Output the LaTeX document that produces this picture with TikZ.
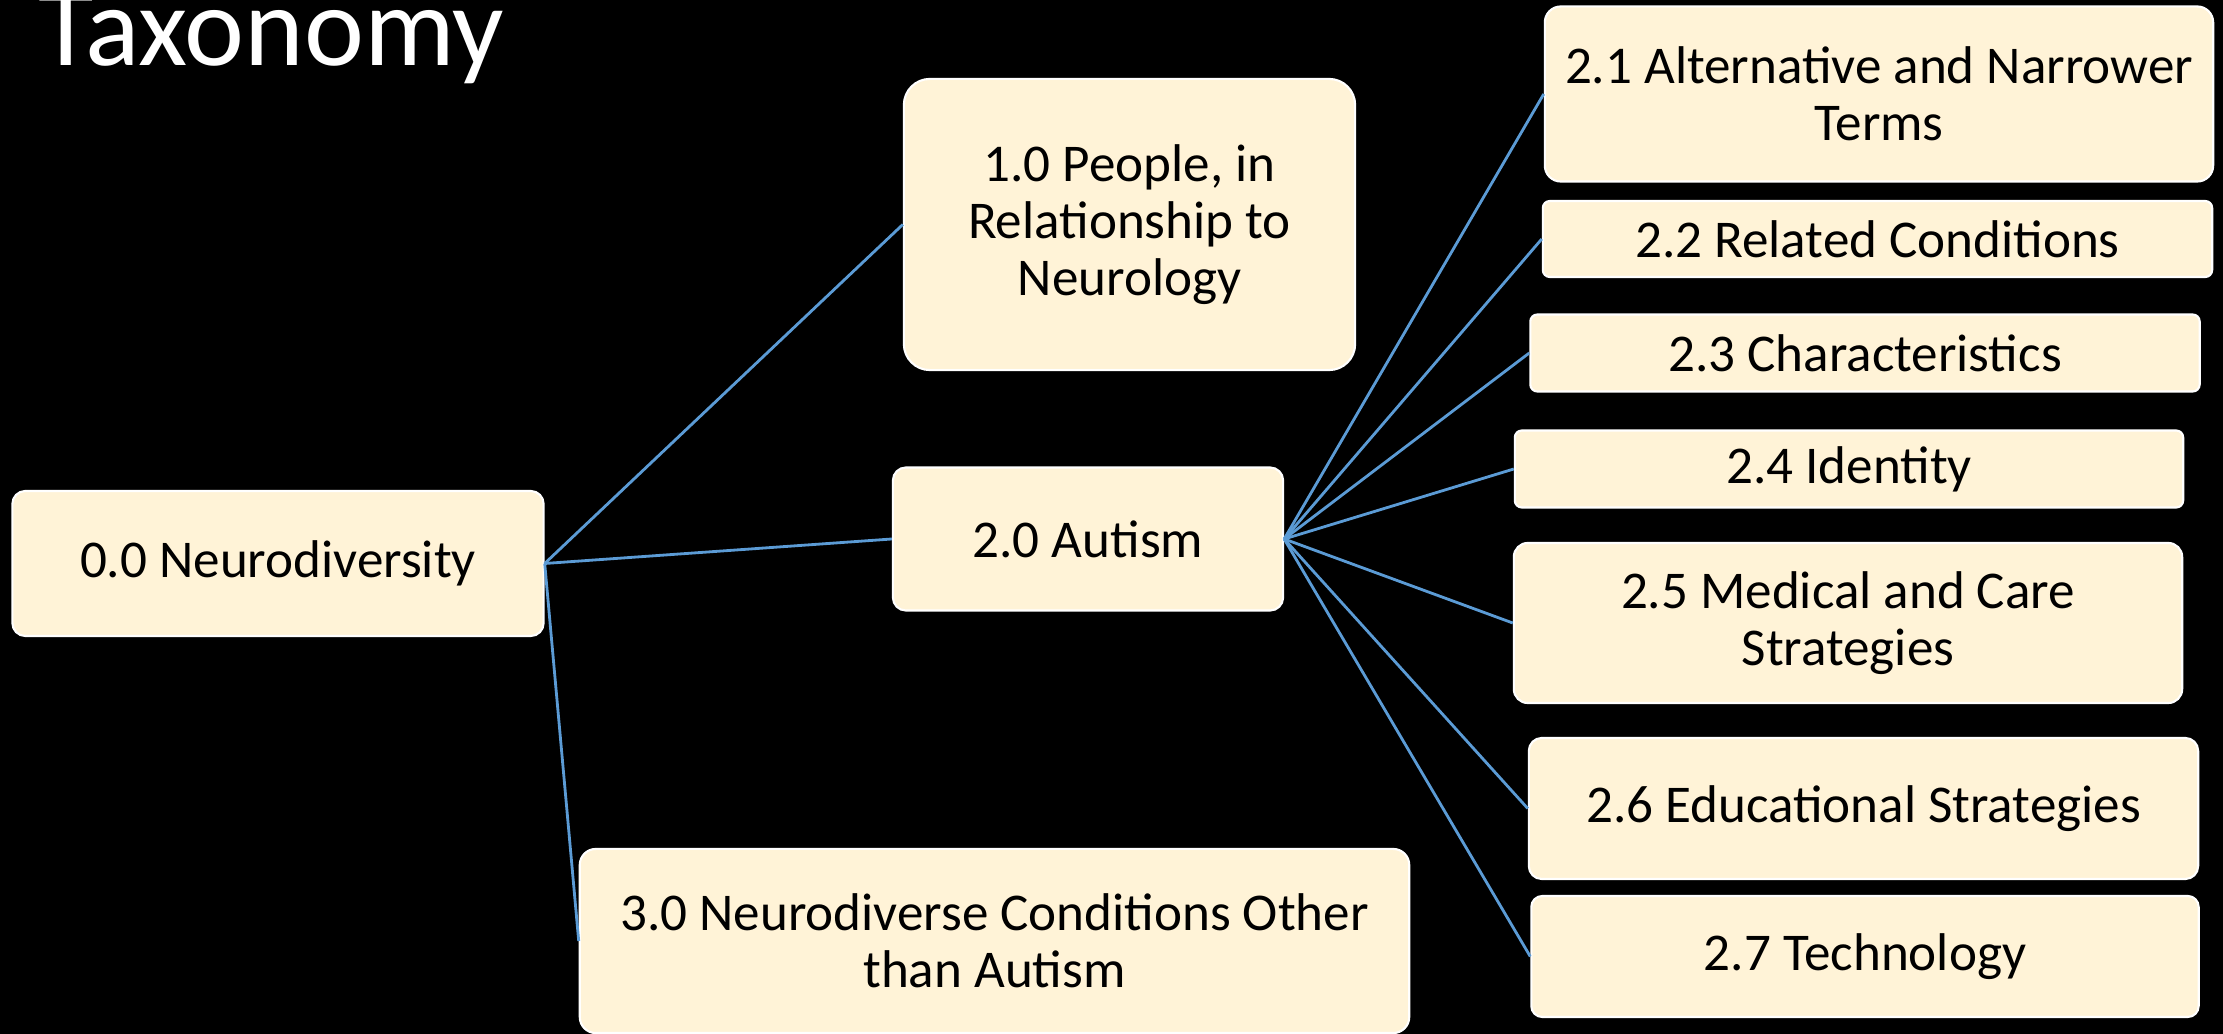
\documentclass[tikz,border=0pt]{standalone}
\usepackage{fontspec}
\setmainfont{Carlito}
\usepackage{tikz}

\definecolor{linkblue}{RGB}{91,155,213}
\definecolor{boxfill}{RGB}{255,243,215}

\begin{document}
\begin{tikzpicture}[x=0.01cm,y=-0.01cm,
        box/.style={rectangle,rounded corners=0.13cm,draw=white,line width=0.6pt,fill=boxfill,
            inner sep=0pt,align=center,font=\fontsize{15.1}{16.2}\selectfont},
        link/.style={draw=linkblue,line width=0.8pt}]

    \fill[black] (0,0) rectangle (2223,1034);
    \useasboundingbox (0,0) rectangle (2223,1034);

    \node[white, anchor=base west, inner sep=0pt, font=\fontsize{32.3}{38}\selectfont] (title) at (38,66) {Taxonomy};

    \node[box, minimum width=5.31cm, minimum height=1.45cm] (0) at (278,563.5) {0.0 Neurodiversity};
    \node[box, minimum width=4.51cm, minimum height=2.91cm, rounded corners=0.26cm] (1) at (1129.5,224.5) {1.0 People, in\\Relationship to\\Neurology};
    \node[box, minimum width=3.90cm, minimum height=1.43cm] (2) at (1088,539) {2.0 Autism};
    \node[box, minimum width=8.29cm, minimum height=1.84cm, rounded corners=0.16cm] (3) at (994.5,941) {3.0 Neurodiverse Conditions Other\\than Autism};

    \node[box, minimum width=6.68cm, minimum height=1.75cm, rounded corners=0.16cm] (21) at (1879,94) {2.1 Alternative and Narrower\\Terms};
    \node[box, minimum width=6.69cm, minimum height=0.76cm, rounded corners=0.07cm] (22) at (1877.5,239) {2.2 Related Conditions};
    \node[box, minimum width=6.69cm, minimum height=0.77cm, rounded corners=0.07cm] (23) at (1865,353) {2.3 Characteristics};
    \node[box, minimum width=6.68cm, minimum height=0.77cm, rounded corners=0.07cm] (24) at (1849,469) {2.4 Identity};
    \node[box, minimum width=6.68cm, minimum height=1.60cm, rounded corners=0.14cm] (25) at (1848,623) {2.5 Medical and Care\\Strategies};
    \node[box, minimum width=6.69cm, minimum height=1.41cm] (26) at (1863.5,808.5) {2.6 Educational Strategies};
    \node[box, minimum width=6.67cm, minimum height=1.21cm, rounded corners=0.11cm] (27) at (1865,956.5) {2.7 Technology};

    \path[link]
    (0.east) edge (1.west)
    (0.east) edge (2.west)
    (0.east) edge (3.west)
    (2.east) edge (21.west)
    (2.east) edge (22.west)
    (2.east) edge (23.west)
    (2.east) edge (24.west)
    (2.east) edge (25.west)
    (2.east) edge (26.west)
    (2.east) edge (27.west);

\end{tikzpicture}
\end{document}
